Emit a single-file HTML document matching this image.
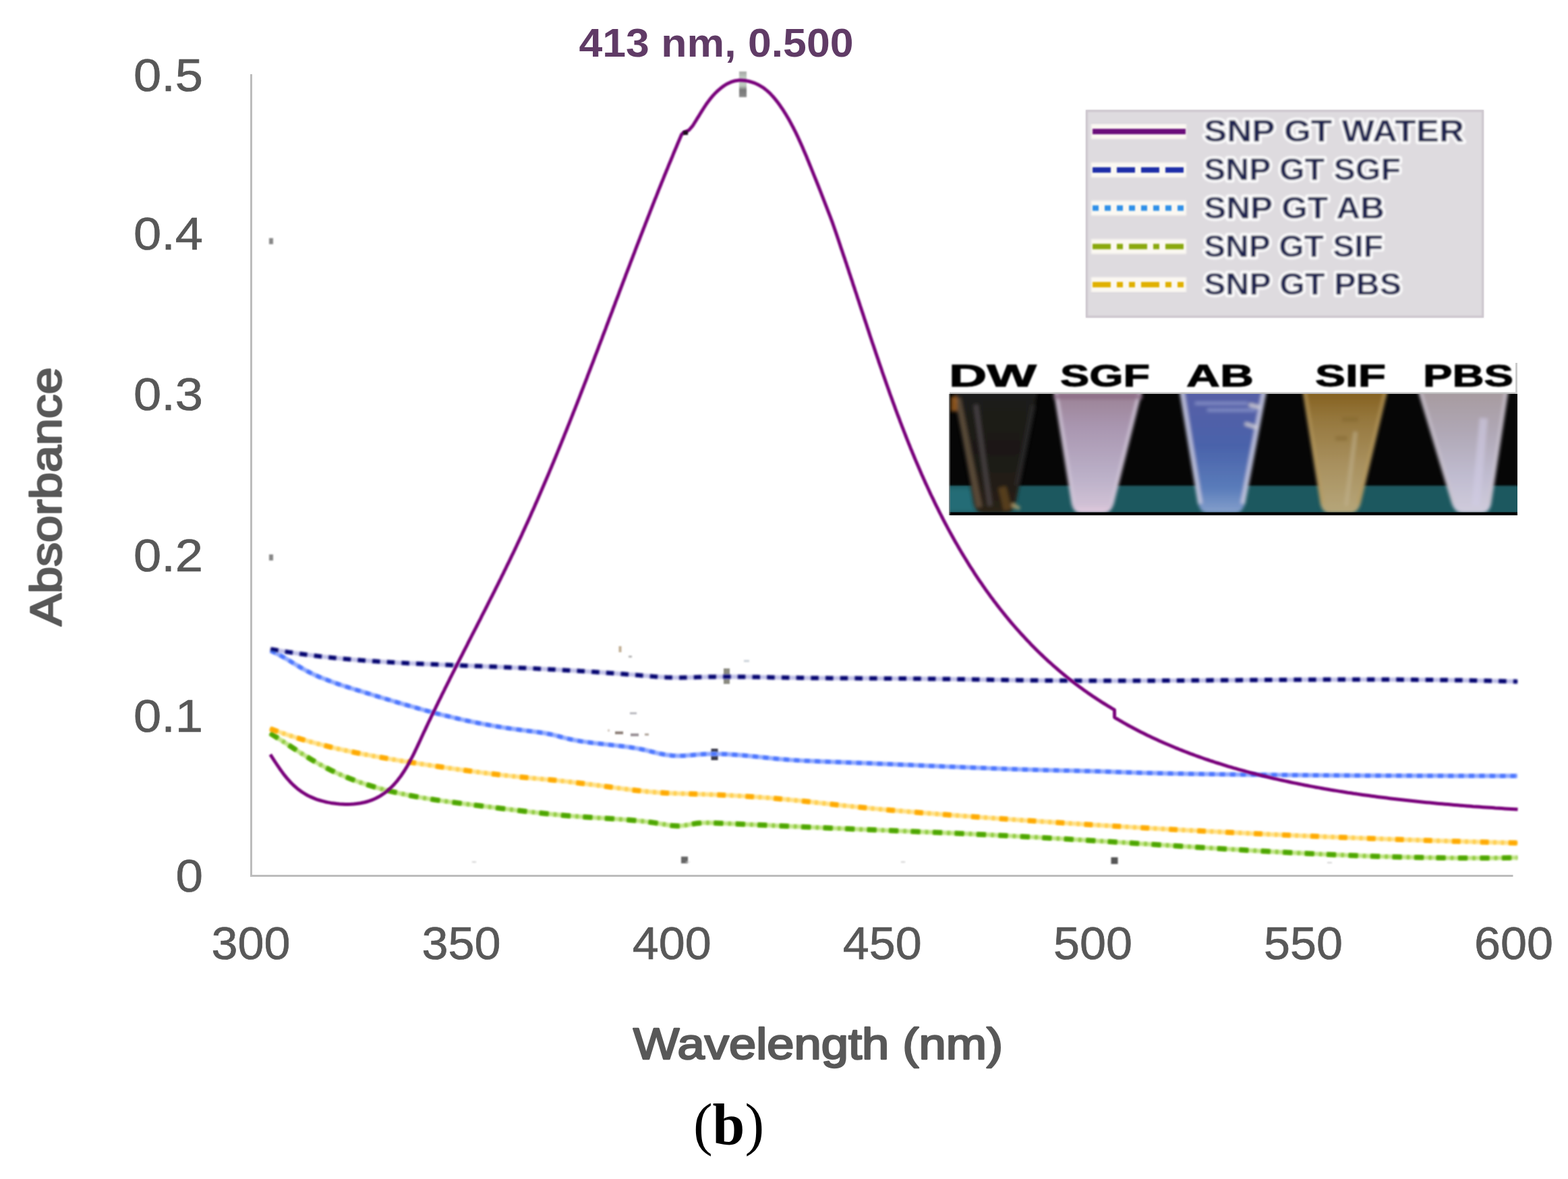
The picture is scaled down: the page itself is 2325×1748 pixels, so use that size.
<!DOCTYPE html>
<html lang="en"><head><meta charset="utf-8"><title>UV-Vis absorbance of SNP GT in different media</title>
<style>
html,body{margin:0;padding:0;background:#fff;}
body{width:2325px;height:1748px;overflow:hidden;}
svg{display:block;}
text{font-family:"Liberation Sans",sans-serif;}
.tick{font-size:68px;fill:#595959;stroke:#595959;stroke-width:0.7px;}
.title{font-size:64.5px;fill:#595959;stroke:#595959;stroke-width:2.5px;stroke-linejoin:round;}
.cap{font-family:"Liberation Serif",serif;font-size:86px;fill:#000;}
.leg{font-size:46px;font-weight:bold;fill:#1c2250;stroke:#fff;stroke-width:7px;paint-order:stroke;stroke-linejoin:round;}
.tube{font-size:46px;font-weight:bold;fill:#000;stroke:#000;stroke-width:1px;}
</style></head><body>
<svg width="2325" height="1748" viewBox="0 0 2325 1748" role="img" aria-label="UV-Vis absorbance spectra">
<defs>
<filter id="b05" x="-5%" y="-5%" width="110%" height="110%"><feGaussianBlur stdDeviation="0.5"/></filter>
<filter id="b1" x="-5%" y="-5%" width="110%" height="110%"><feGaussianBlur stdDeviation="0.9"/></filter>
<filter id="b12" x="-5%" y="-5%" width="110%" height="110%"><feGaussianBlur stdDeviation="1.15"/></filter>
<filter id="b13" x="-5%" y="-5%" width="110%" height="110%"><feGaussianBlur stdDeviation="1.3"/></filter>
<filter id="b16" x="-5%" y="-5%" width="110%" height="110%"><feGaussianBlur stdDeviation="1.7"/></filter>
<filter id="b2" x="-5%" y="-5%" width="110%" height="110%"><feGaussianBlur stdDeviation="1.6"/></filter>
<filter id="b3" x="-5%" y="-5%" width="110%" height="110%"><feGaussianBlur stdDeviation="2.5"/></filter>
<filter id="b5" x="-5%" y="-5%" width="110%" height="110%"><feGaussianBlur stdDeviation="5"/></filter>
<filter id="bt" x="-5%" y="-20%" width="110%" height="140%"><feGaussianBlur stdDeviation="0.9"/></filter>
<filter id="bl" x="-5%" y="-20%" width="110%" height="140%"><feGaussianBlur stdDeviation="1.5"/></filter>
</defs>
<rect width="2325" height="1748" fill="#fff"/>
<g fill="none" stroke="#bcbcbc" stroke-width="3">
<path d="M372.5 110 V1300"/>
<path d="M371 1298.5 H2243.5"/>
</g>
<g class="tick" text-anchor="end" filter="url(#b05)">
<text x="301" y="135.2" textLength="103.0" lengthAdjust="spacingAndGlyphs">0.5</text>
<text x="301" y="369.6" textLength="103.0" lengthAdjust="spacingAndGlyphs">0.4</text>
<text x="301" y="608.0" textLength="103.0" lengthAdjust="spacingAndGlyphs">0.3</text>
<text x="301" y="846.5" textLength="103.0" lengthAdjust="spacingAndGlyphs">0.2</text>
<text x="301" y="1085.0" textLength="103.0" lengthAdjust="spacingAndGlyphs">0.1</text>
<text x="301" y="1322.0" textLength="40.5" lengthAdjust="spacingAndGlyphs">0</text>
</g>
<g class="tick" text-anchor="middle" filter="url(#b05)">
<text x="372.0" y="1422" textLength="117" lengthAdjust="spacingAndGlyphs">300</text>
<text x="684.1" y="1422" textLength="117" lengthAdjust="spacingAndGlyphs">350</text>
<text x="996.2" y="1422" textLength="117" lengthAdjust="spacingAndGlyphs">400</text>
<text x="1308.3" y="1422" textLength="117" lengthAdjust="spacingAndGlyphs">450</text>
<text x="1620.4" y="1422" textLength="117" lengthAdjust="spacingAndGlyphs">500</text>
<text x="1932.5" y="1422" textLength="117" lengthAdjust="spacingAndGlyphs">550</text>
<text x="2244.6" y="1422" textLength="117" lengthAdjust="spacingAndGlyphs">600</text>
</g>
<g class="title" filter="url(#b05)">
<text x="1213" y="1570" text-anchor="middle" textLength="548" lengthAdjust="spacingAndGlyphs">Wavelength (nm)</text>
<text transform="translate(90.5 736.3) rotate(-90)" text-anchor="middle" textLength="383.5" lengthAdjust="spacingAndGlyphs">Absorbance</text>
</g>
<text x="1062" y="84" text-anchor="middle" textLength="407" lengthAdjust="spacingAndGlyphs" filter="url(#b05)" style="font-size:60px;font-weight:bold;fill:#603a66">413 nm, 0.500</text>
<defs><linearGradient id="gMk" x1="0" y1="0" x2="0" y2="1"><stop offset="0" stop-color="#a4a6a4"/><stop offset="0.3" stop-color="#c4d2c6"/><stop offset="0.55" stop-color="#bccabc"/><stop offset="0.72" stop-color="#787878"/><stop offset="1" stop-color="#8a8a8a"/></linearGradient></defs>
<g filter="url(#b1)">
<rect x="1096" y="106" width="11" height="38" fill="url(#gMk)"/>
<rect x="1073" y="991" width="9" height="23" fill="#8a8a80"/>
<rect x="1054.5" y="1110" width="10" height="17" fill="#3a3a4a"/>
</g>
<g fill="none" stroke-linejoin="round">
<g filter="url(#b16)">
<path d="M401.3 964.7 L410.3 969.0 L419.3 973.8 L428.4 979.1 L437.4 984.6 L446.4 990.0 L455.4 995.1 L464.4 999.6 L473.4 1003.6 L482.5 1007.2 L491.5 1010.6 L500.5 1013.8 L509.5 1016.9 L518.5 1019.7 L527.6 1022.6 L536.6 1025.3 L545.6 1028.1 L554.6 1030.9 L563.6 1033.7 L572.6 1036.4 L581.7 1039.1 L590.7 1041.8 L599.7 1044.5 L608.7 1047.1 L617.7 1049.6 L626.8 1052.2 L635.8 1054.6 L644.8 1057.0 L653.8 1059.4 L662.8 1061.6 L671.8 1063.8 L680.9 1065.9 L689.9 1068.0 L698.9 1069.9 L707.9 1071.7 L716.9 1073.5 L725.9 1075.1 L735.0 1076.7 L744.0 1078.2 L753.0 1079.6 L762.0 1080.9 L771.0 1082.1 L780.1 1083.3 L789.1 1084.4 L798.1 1085.6 L807.1 1086.9 L816.1 1088.6 L825.1 1090.8 L834.2 1093.3 L843.2 1095.5 L852.2 1097.4 L861.2 1099.0 L870.2 1100.3 L879.3 1101.5 L888.3 1102.5 L897.3 1103.5 L906.3 1104.5 L915.3 1105.5 L924.3 1106.6 L933.4 1107.8 L942.4 1109.2 L951.4 1110.9 L960.4 1112.9 L969.4 1115.2 L978.5 1117.4 L987.5 1119.1 L996.5 1120.2 L1005.5 1120.6 L1014.5 1120.4 L1023.5 1119.7 L1032.6 1118.9 L1041.6 1118.2 L1050.6 1117.8 L1059.6 1117.8 L1068.6 1117.9 L1077.7 1118.2 L1086.7 1118.8 L1095.7 1119.4 L1104.7 1120.2 L1113.7 1121.1 L1122.7 1122.0 L1131.8 1122.9 L1140.8 1123.9 L1149.8 1124.8 L1158.8 1125.6 L1167.8 1126.3 L1176.9 1127.0 L1185.9 1127.5 L1194.9 1128.0 L1203.9 1128.4 L1212.9 1128.8 L1221.9 1129.2 L1231.0 1129.5 L1240.0 1129.8 L1249.0 1130.2 L1258.0 1130.5 L1267.0 1130.8 L1276.1 1131.2 L1285.1 1131.5 L1294.1 1131.9 L1303.1 1132.3 L1312.1 1132.6 L1321.1 1133.0 L1330.2 1133.4 L1339.2 1133.8 L1348.2 1134.1 L1357.2 1134.5 L1366.2 1134.9 L1375.2 1135.3 L1384.3 1135.7 L1393.3 1136.1 L1402.3 1136.5 L1411.3 1136.8 L1420.3 1137.2 L1429.4 1137.6 L1438.4 1137.9 L1447.4 1138.3 L1456.4 1138.6 L1465.4 1139.0 L1474.4 1139.3 L1483.5 1139.7 L1492.5 1140.0 L1501.5 1140.3 L1510.5 1140.6 L1519.5 1140.9 L1528.6 1141.2 L1537.6 1141.4 L1546.6 1141.7 L1555.6 1141.9 L1564.6 1142.1 L1573.6 1142.3 L1582.7 1142.5 L1591.7 1142.7 L1600.7 1142.9 L1609.7 1143.2 L1618.7 1143.4 L1627.8 1143.6 L1636.8 1143.9 L1645.8 1144.2 L1654.8 1144.6 L1663.8 1144.9 L1672.8 1145.2 L1681.9 1145.5 L1690.9 1145.8 L1699.9 1146.0 L1708.9 1146.2 L1717.9 1146.4 L1727.0 1146.6 L1736.0 1146.8 L1745.0 1147.0 L1754.0 1147.1 L1763.0 1147.3 L1772.0 1147.4 L1781.1 1147.6 L1790.1 1147.7 L1799.1 1147.8 L1808.1 1148.0 L1817.1 1148.1 L1826.2 1148.2 L1835.2 1148.3 L1844.2 1148.4 L1853.2 1148.5 L1862.2 1148.6 L1871.2 1148.7 L1880.3 1148.8 L1889.3 1148.9 L1898.3 1149.0 L1907.3 1149.1 L1916.3 1149.2 L1925.4 1149.2 L1934.4 1149.3 L1943.4 1149.4 L1952.4 1149.4 L1961.4 1149.5 L1970.4 1149.6 L1979.5 1149.6 L1988.5 1149.7 L1997.5 1149.7 L2006.5 1149.8 L2015.5 1149.8 L2024.5 1149.9 L2033.6 1149.9 L2042.6 1149.9 L2051.6 1150.0 L2060.6 1150.0 L2069.6 1150.0 L2078.7 1150.1 L2087.7 1150.1 L2096.7 1150.1 L2105.7 1150.2 L2114.7 1150.2 L2123.7 1150.2 L2132.8 1150.2 L2141.8 1150.2 L2150.8 1150.3 L2159.8 1150.3 L2168.8 1150.3 L2177.9 1150.3 L2186.9 1150.3 L2195.9 1150.3 L2204.9 1150.3 L2213.9 1150.4 L2222.9 1150.4 L2232.0 1150.4 L2241.0 1150.4 L2250.0 1150.4" stroke="#8ea8ff" stroke-width="6.2"/>
<path d="M400.8 1087.3 L409.8 1093.0 L418.8 1098.7 L427.9 1104.6 L436.9 1110.5 L445.9 1116.3 L454.9 1121.9 L463.9 1127.4 L473.0 1132.6 L482.0 1137.5 L491.0 1142.1 L500.0 1146.3 L509.0 1150.3 L518.1 1154.0 L527.1 1157.5 L536.1 1160.7 L545.1 1163.6 L554.1 1166.4 L563.2 1169.0 L572.2 1171.4 L581.2 1173.6 L590.2 1175.7 L599.3 1177.6 L608.3 1179.5 L617.3 1181.2 L626.3 1182.8 L635.3 1184.2 L644.4 1185.7 L653.4 1187.0 L662.4 1188.3 L671.4 1189.5 L680.4 1190.7 L689.5 1191.8 L698.5 1193.0 L707.5 1194.1 L716.5 1195.2 L725.5 1196.3 L734.6 1197.5 L743.6 1198.6 L752.6 1199.7 L761.6 1200.8 L770.6 1201.9 L779.7 1203.0 L788.7 1204.0 L797.7 1205.0 L806.7 1206.0 L815.7 1206.9 L824.8 1207.8 L833.8 1208.7 L842.8 1209.5 L851.8 1210.2 L860.8 1210.9 L869.9 1211.5 L878.9 1212.1 L887.9 1212.7 L896.9 1213.2 L905.9 1213.8 L915.0 1214.3 L924.0 1215.0 L933.0 1215.7 L942.0 1216.5 L951.0 1217.4 L960.1 1218.5 L969.1 1219.7 L978.1 1221.1 L987.1 1222.6 L996.2 1224.0 L1005.2 1224.6 L1014.2 1223.9 L1023.2 1222.4 L1032.2 1220.8 L1041.3 1220.0 L1050.3 1219.9 L1059.3 1220.2 L1068.3 1220.6 L1077.3 1221.0 L1086.4 1221.3 L1095.4 1221.7 L1104.4 1222.1 L1113.4 1222.5 L1122.4 1222.9 L1131.5 1223.3 L1140.5 1223.7 L1149.5 1224.1 L1158.5 1224.5 L1167.5 1224.9 L1176.6 1225.3 L1185.6 1225.7 L1194.6 1226.1 L1203.6 1226.5 L1212.6 1226.9 L1221.7 1227.3 L1230.7 1227.7 L1239.7 1228.1 L1248.7 1228.4 L1257.7 1228.8 L1266.8 1229.2 L1275.8 1229.6 L1284.8 1229.9 L1293.8 1230.3 L1302.8 1230.7 L1311.9 1231.0 L1320.9 1231.4 L1329.9 1231.8 L1338.9 1232.2 L1348.0 1232.5 L1357.0 1232.9 L1366.0 1233.3 L1375.0 1233.7 L1384.0 1234.0 L1393.1 1234.4 L1402.1 1234.8 L1411.1 1235.2 L1420.1 1235.6 L1429.1 1236.0 L1438.2 1236.4 L1447.2 1236.9 L1456.2 1237.3 L1465.2 1237.7 L1474.2 1238.1 L1483.3 1238.6 L1492.3 1239.0 L1501.3 1239.5 L1510.3 1240.0 L1519.3 1240.5 L1528.4 1241.0 L1537.4 1241.4 L1546.4 1242.0 L1555.4 1242.5 L1564.4 1243.0 L1573.5 1243.5 L1582.5 1244.0 L1591.5 1244.6 L1600.5 1245.1 L1609.5 1245.7 L1618.6 1246.2 L1627.6 1246.8 L1636.6 1247.3 L1645.6 1247.9 L1654.6 1248.5 L1663.7 1249.0 L1672.7 1249.6 L1681.7 1250.2 L1690.7 1250.8 L1699.8 1251.3 L1708.8 1251.9 L1717.8 1252.5 L1726.8 1253.0 L1735.8 1253.6 L1744.9 1254.2 L1753.9 1254.8 L1762.9 1255.3 L1771.9 1255.9 L1780.9 1256.5 L1790.0 1257.0 L1799.0 1257.6 L1808.0 1258.1 L1817.0 1258.7 L1826.0 1259.2 L1835.1 1259.7 L1844.1 1260.3 L1853.1 1260.8 L1862.1 1261.3 L1871.1 1261.8 L1880.2 1262.3 L1889.2 1262.8 L1898.2 1263.3 L1907.2 1263.8 L1916.2 1264.3 L1925.3 1264.7 L1934.3 1265.2 L1943.3 1265.6 L1952.3 1266.0 L1961.3 1266.5 L1970.4 1266.9 L1979.4 1267.3 L1988.4 1267.6 L1997.4 1268.0 L2006.4 1268.4 L2015.5 1268.7 L2024.5 1269.1 L2033.5 1269.4 L2042.5 1269.7 L2051.5 1270.0 L2060.6 1270.2 L2069.6 1270.5 L2078.6 1270.7 L2087.6 1270.9 L2096.7 1271.1 L2105.7 1271.3 L2114.7 1271.5 L2123.7 1271.6 L2132.7 1271.8 L2141.8 1271.9 L2150.8 1272.0 L2159.8 1272.1 L2168.8 1272.1 L2177.8 1272.1 L2186.9 1272.2 L2195.9 1272.1 L2204.9 1272.1 L2213.9 1272.1 L2222.9 1272.0 L2232.0 1271.9 L2241.0 1271.7 L2250.0 1271.6" stroke="#c0e484" stroke-width="6.2"/>
<path d="M400.8 1080.5 L409.8 1083.8 L418.8 1086.9 L427.9 1090.0 L436.9 1092.9 L445.9 1095.6 L454.9 1098.3 L463.9 1100.8 L473.0 1103.2 L482.0 1105.5 L491.0 1107.8 L500.0 1109.9 L509.0 1111.9 L518.1 1113.9 L527.1 1115.8 L536.1 1117.6 L545.1 1119.3 L554.1 1121.0 L563.2 1122.6 L572.2 1124.2 L581.2 1125.7 L590.2 1127.2 L599.3 1128.7 L608.3 1130.1 L617.3 1131.5 L626.3 1132.9 L635.3 1134.3 L644.4 1135.7 L653.4 1137.0 L662.4 1138.3 L671.4 1139.6 L680.4 1140.9 L689.5 1142.1 L698.5 1143.3 L707.5 1144.5 L716.5 1145.7 L725.5 1146.8 L734.6 1147.9 L743.6 1149.0 L752.6 1150.0 L761.6 1151.0 L770.6 1151.9 L779.7 1152.8 L788.7 1153.6 L797.7 1154.5 L806.7 1155.3 L815.7 1156.1 L824.8 1157.0 L833.8 1158.0 L842.8 1159.0 L851.8 1160.1 L860.8 1161.2 L869.9 1162.3 L878.9 1163.4 L887.9 1164.6 L896.9 1165.8 L905.9 1167.0 L915.0 1168.2 L924.0 1169.4 L933.0 1170.6 L942.0 1171.7 L951.0 1172.7 L960.1 1173.6 L969.1 1174.4 L978.1 1175.1 L987.1 1175.7 L996.2 1176.1 L1005.2 1176.5 L1014.2 1176.7 L1023.2 1177.0 L1032.2 1177.3 L1041.3 1177.5 L1050.3 1177.9 L1059.3 1178.2 L1068.3 1178.6 L1077.3 1179.0 L1086.4 1179.5 L1095.4 1180.0 L1104.4 1180.5 L1113.4 1181.1 L1122.4 1181.7 L1131.5 1182.3 L1140.5 1183.0 L1149.5 1183.8 L1158.5 1184.6 L1167.5 1185.4 L1176.6 1186.3 L1185.6 1187.2 L1194.6 1188.1 L1203.6 1189.1 L1212.6 1190.1 L1221.7 1191.1 L1230.7 1192.1 L1239.7 1193.1 L1248.7 1194.1 L1257.7 1195.0 L1266.8 1196.0 L1275.8 1196.9 L1284.8 1197.8 L1293.8 1198.7 L1302.8 1199.5 L1311.9 1200.3 L1320.9 1201.2 L1329.9 1201.9 L1338.9 1202.7 L1348.0 1203.5 L1357.0 1204.2 L1366.0 1205.0 L1375.0 1205.7 L1384.0 1206.4 L1393.1 1207.1 L1402.1 1207.8 L1411.1 1208.5 L1420.1 1209.2 L1429.1 1209.9 L1438.2 1210.5 L1447.2 1211.2 L1456.2 1211.8 L1465.2 1212.5 L1474.2 1213.1 L1483.3 1213.8 L1492.3 1214.4 L1501.3 1215.0 L1510.3 1215.7 L1519.3 1216.3 L1528.4 1216.9 L1537.4 1217.5 L1546.4 1218.1 L1555.4 1218.7 L1564.4 1219.3 L1573.5 1219.9 L1582.5 1220.5 L1591.5 1221.1 L1600.5 1221.6 L1609.5 1222.2 L1618.6 1222.8 L1627.6 1223.3 L1636.6 1223.9 L1645.6 1224.4 L1654.6 1225.0 L1663.7 1225.5 L1672.7 1226.0 L1681.7 1226.6 L1690.7 1227.1 L1699.8 1227.6 L1708.8 1228.1 L1717.8 1228.6 L1726.8 1229.1 L1735.8 1229.6 L1744.9 1230.1 L1753.9 1230.6 L1762.9 1231.1 L1771.9 1231.5 L1780.9 1232.0 L1790.0 1232.5 L1799.0 1232.9 L1808.0 1233.4 L1817.0 1233.8 L1826.0 1234.3 L1835.1 1234.7 L1844.1 1235.2 L1853.1 1235.6 L1862.1 1236.0 L1871.1 1236.4 L1880.2 1236.9 L1889.2 1237.3 L1898.2 1237.7 L1907.2 1238.1 L1916.2 1238.5 L1925.3 1238.9 L1934.3 1239.3 L1943.3 1239.6 L1952.3 1240.0 L1961.3 1240.4 L1970.4 1240.8 L1979.4 1241.1 L1988.4 1241.5 L1997.4 1241.8 L2006.4 1242.2 L2015.5 1242.5 L2024.5 1242.9 L2033.5 1243.2 L2042.5 1243.5 L2051.5 1243.8 L2060.6 1244.2 L2069.6 1244.5 L2078.6 1244.8 L2087.6 1245.1 L2096.7 1245.4 L2105.7 1245.7 L2114.7 1246.0 L2123.7 1246.3 L2132.7 1246.6 L2141.8 1246.8 L2150.8 1247.1 L2159.8 1247.4 L2168.8 1247.6 L2177.8 1247.9 L2186.9 1248.1 L2195.9 1248.4 L2204.9 1248.6 L2213.9 1248.9 L2222.9 1249.1 L2232.0 1249.4 L2241.0 1249.6 L2250.0 1249.8" stroke="#ffe084" stroke-width="6.2"/>
<path d="M401.3 962.4 L410.3 964.0 L419.3 965.5 L428.4 966.9 L437.4 968.2 L446.4 969.5 L455.4 970.7 L464.4 971.9 L473.4 973.0 L482.5 974.0 L491.5 974.9 L500.5 975.9 L509.5 976.7 L518.5 977.5 L527.6 978.3 L536.6 979.0 L545.6 979.7 L554.6 980.3 L563.6 980.9 L572.6 981.5 L581.7 982.0 L590.7 982.6 L599.7 983.0 L608.7 983.5 L617.7 983.9 L626.8 984.3 L635.8 984.7 L644.8 985.1 L653.8 985.5 L662.8 985.8 L671.8 986.2 L680.9 986.5 L689.9 986.9 L698.9 987.2 L707.9 987.6 L716.9 987.9 L725.9 988.3 L735.0 988.6 L744.0 989.0 L753.0 989.4 L762.0 989.8 L771.0 990.2 L780.1 990.6 L789.1 991.0 L798.1 991.5 L807.1 991.9 L816.1 992.4 L825.1 992.9 L834.2 993.4 L843.2 993.9 L852.2 994.4 L861.2 994.9 L870.2 995.5 L879.3 996.1 L888.3 996.7 L897.3 997.3 L906.3 997.9 L915.3 998.6 L924.3 999.3 L933.4 1000.0 L942.4 1000.7 L951.4 1001.5 L960.4 1002.2 L969.4 1003.0 L978.5 1003.7 L987.5 1004.2 L996.5 1004.5 L1005.5 1004.7 L1014.5 1004.6 L1023.5 1004.4 L1032.6 1004.1 L1041.6 1003.8 L1050.6 1003.6 L1059.6 1003.4 L1068.6 1003.3 L1077.7 1003.3 L1086.7 1003.3 L1095.7 1003.4 L1104.7 1003.5 L1113.7 1003.6 L1122.7 1003.8 L1131.8 1004.0 L1140.8 1004.2 L1149.8 1004.4 L1158.8 1004.5 L1167.8 1004.7 L1176.9 1004.8 L1185.9 1004.9 L1194.9 1005.1 L1203.9 1005.2 L1212.9 1005.3 L1221.9 1005.3 L1231.0 1005.4 L1240.0 1005.5 L1249.0 1005.5 L1258.0 1005.6 L1267.0 1005.6 L1276.1 1005.7 L1285.1 1005.7 L1294.1 1005.8 L1303.1 1005.8 L1312.1 1005.9 L1321.1 1005.9 L1330.2 1006.0 L1339.2 1006.1 L1348.2 1006.1 L1357.2 1006.2 L1366.2 1006.3 L1375.2 1006.4 L1384.3 1006.5 L1393.3 1006.6 L1402.3 1006.7 L1411.3 1006.8 L1420.3 1007.0 L1429.4 1007.1 L1438.4 1007.3 L1447.4 1007.4 L1456.4 1007.6 L1465.4 1007.7 L1474.4 1007.9 L1483.5 1008.0 L1492.5 1008.2 L1501.5 1008.3 L1510.5 1008.4 L1519.5 1008.6 L1528.6 1008.7 L1537.6 1008.8 L1546.6 1008.9 L1555.6 1008.9 L1564.6 1009.0 L1573.6 1009.1 L1582.7 1009.1 L1591.7 1009.2 L1600.7 1009.2 L1609.7 1009.3 L1618.7 1009.3 L1627.8 1009.3 L1636.8 1009.3 L1645.8 1009.3 L1654.8 1009.3 L1663.8 1009.3 L1672.8 1009.3 L1681.9 1009.3 L1690.9 1009.2 L1699.9 1009.2 L1708.9 1009.2 L1717.9 1009.1 L1727.0 1009.1 L1736.0 1009.0 L1745.0 1009.0 L1754.0 1008.9 L1763.0 1008.9 L1772.0 1008.8 L1781.1 1008.8 L1790.1 1008.7 L1799.1 1008.6 L1808.1 1008.6 L1817.1 1008.5 L1826.2 1008.4 L1835.2 1008.4 L1844.2 1008.3 L1853.2 1008.2 L1862.2 1008.2 L1871.2 1008.1 L1880.3 1008.1 L1889.3 1008.0 L1898.3 1007.9 L1907.3 1007.9 L1916.3 1007.8 L1925.4 1007.8 L1934.4 1007.7 L1943.4 1007.7 L1952.4 1007.7 L1961.4 1007.6 L1970.4 1007.6 L1979.5 1007.6 L1988.5 1007.5 L1997.5 1007.5 L2006.5 1007.5 L2015.5 1007.5 L2024.5 1007.5 L2033.6 1007.5 L2042.6 1007.5 L2051.6 1007.6 L2060.6 1007.6 L2069.6 1007.6 L2078.7 1007.7 L2087.7 1007.7 L2096.7 1007.8 L2105.7 1007.9 L2114.7 1007.9 L2123.7 1008.0 L2132.8 1008.1 L2141.8 1008.2 L2150.8 1008.4 L2159.8 1008.5 L2168.8 1008.6 L2177.9 1008.8 L2186.9 1009.0 L2195.9 1009.2 L2204.9 1009.3 L2213.9 1009.5 L2222.9 1009.8 L2232.0 1010.0 L2241.0 1010.2 L2250.0 1010.5" stroke="#c2c2e8" stroke-width="6.2"/>
</g>
<g filter="url(#b16)">
<path d="M400.8 1087.3 L409.8 1093.0 L418.8 1098.7 L427.9 1104.6 L436.9 1110.5 L445.9 1116.3 L454.9 1121.9 L463.9 1127.4 L473.0 1132.6 L482.0 1137.5 L491.0 1142.1 L500.0 1146.3 L509.0 1150.3 L518.1 1154.0 L527.1 1157.5 L536.1 1160.7 L545.1 1163.6 L554.1 1166.4 L563.2 1169.0 L572.2 1171.4 L581.2 1173.6 L590.2 1175.7 L599.3 1177.6 L608.3 1179.5 L617.3 1181.2 L626.3 1182.8 L635.3 1184.2 L644.4 1185.7 L653.4 1187.0 L662.4 1188.3 L671.4 1189.5 L680.4 1190.7 L689.5 1191.8 L698.5 1193.0 L707.5 1194.1 L716.5 1195.2 L725.5 1196.3 L734.6 1197.5 L743.6 1198.6 L752.6 1199.7 L761.6 1200.8 L770.6 1201.9 L779.7 1203.0 L788.7 1204.0 L797.7 1205.0 L806.7 1206.0 L815.7 1206.9 L824.8 1207.8 L833.8 1208.7 L842.8 1209.5 L851.8 1210.2 L860.8 1210.9 L869.9 1211.5 L878.9 1212.1 L887.9 1212.7 L896.9 1213.2 L905.9 1213.8 L915.0 1214.3 L924.0 1215.0 L933.0 1215.7 L942.0 1216.5 L951.0 1217.4 L960.1 1218.5 L969.1 1219.7 L978.1 1221.1 L987.1 1222.6 L996.2 1224.0 L1005.2 1224.6 L1014.2 1223.9 L1023.2 1222.4 L1032.2 1220.8 L1041.3 1220.0 L1050.3 1219.9 L1059.3 1220.2 L1068.3 1220.6 L1077.3 1221.0 L1086.4 1221.3 L1095.4 1221.7 L1104.4 1222.1 L1113.4 1222.5 L1122.4 1222.9 L1131.5 1223.3 L1140.5 1223.7 L1149.5 1224.1 L1158.5 1224.5 L1167.5 1224.9 L1176.6 1225.3 L1185.6 1225.7 L1194.6 1226.1 L1203.6 1226.5 L1212.6 1226.9 L1221.7 1227.3 L1230.7 1227.7 L1239.7 1228.1 L1248.7 1228.4 L1257.7 1228.8 L1266.8 1229.2 L1275.8 1229.6 L1284.8 1229.9 L1293.8 1230.3 L1302.8 1230.7 L1311.9 1231.0 L1320.9 1231.4 L1329.9 1231.8 L1338.9 1232.2 L1348.0 1232.5 L1357.0 1232.9 L1366.0 1233.3 L1375.0 1233.7 L1384.0 1234.0 L1393.1 1234.4 L1402.1 1234.8 L1411.1 1235.2 L1420.1 1235.6 L1429.1 1236.0 L1438.2 1236.4 L1447.2 1236.9 L1456.2 1237.3 L1465.2 1237.7 L1474.2 1238.1 L1483.3 1238.6 L1492.3 1239.0 L1501.3 1239.5 L1510.3 1240.0 L1519.3 1240.5 L1528.4 1241.0 L1537.4 1241.4 L1546.4 1242.0 L1555.4 1242.5 L1564.4 1243.0 L1573.5 1243.5 L1582.5 1244.0 L1591.5 1244.6 L1600.5 1245.1 L1609.5 1245.7 L1618.6 1246.2 L1627.6 1246.8 L1636.6 1247.3 L1645.6 1247.9 L1654.6 1248.5 L1663.7 1249.0 L1672.7 1249.6 L1681.7 1250.2 L1690.7 1250.8 L1699.8 1251.3 L1708.8 1251.9 L1717.8 1252.5 L1726.8 1253.0 L1735.8 1253.6 L1744.9 1254.2 L1753.9 1254.8 L1762.9 1255.3 L1771.9 1255.9 L1780.9 1256.5 L1790.0 1257.0 L1799.0 1257.6 L1808.0 1258.1 L1817.0 1258.7 L1826.0 1259.2 L1835.1 1259.7 L1844.1 1260.3 L1853.1 1260.8 L1862.1 1261.3 L1871.1 1261.8 L1880.2 1262.3 L1889.2 1262.8 L1898.2 1263.3 L1907.2 1263.8 L1916.2 1264.3 L1925.3 1264.7 L1934.3 1265.2 L1943.3 1265.6 L1952.3 1266.0 L1961.3 1266.5 L1970.4 1266.9 L1979.4 1267.3 L1988.4 1267.6 L1997.4 1268.0 L2006.4 1268.4 L2015.5 1268.7 L2024.5 1269.1 L2033.5 1269.4 L2042.5 1269.7 L2051.5 1270.0 L2060.6 1270.2 L2069.6 1270.5 L2078.6 1270.7 L2087.6 1270.9 L2096.7 1271.1 L2105.7 1271.3 L2114.7 1271.5 L2123.7 1271.6 L2132.7 1271.8 L2141.8 1271.9 L2150.8 1272.0 L2159.8 1272.1 L2168.8 1272.1 L2177.8 1272.1 L2186.9 1272.2 L2195.9 1272.1 L2204.9 1272.1 L2213.9 1272.1 L2222.9 1272.0 L2232.0 1271.9 L2241.0 1271.7 L2250.0 1271.6" stroke="#8cc83c" stroke-width="5.6" stroke-dasharray="13.5 7.5 4.5 7"/>
<path d="M400.8 1080.5 L409.8 1083.8 L418.8 1086.9 L427.9 1090.0 L436.9 1092.9 L445.9 1095.6 L454.9 1098.3 L463.9 1100.8 L473.0 1103.2 L482.0 1105.5 L491.0 1107.8 L500.0 1109.9 L509.0 1111.9 L518.1 1113.9 L527.1 1115.8 L536.1 1117.6 L545.1 1119.3 L554.1 1121.0 L563.2 1122.6 L572.2 1124.2 L581.2 1125.7 L590.2 1127.2 L599.3 1128.7 L608.3 1130.1 L617.3 1131.5 L626.3 1132.9 L635.3 1134.3 L644.4 1135.7 L653.4 1137.0 L662.4 1138.3 L671.4 1139.6 L680.4 1140.9 L689.5 1142.1 L698.5 1143.3 L707.5 1144.5 L716.5 1145.7 L725.5 1146.8 L734.6 1147.9 L743.6 1149.0 L752.6 1150.0 L761.6 1151.0 L770.6 1151.9 L779.7 1152.8 L788.7 1153.6 L797.7 1154.5 L806.7 1155.3 L815.7 1156.1 L824.8 1157.0 L833.8 1158.0 L842.8 1159.0 L851.8 1160.1 L860.8 1161.2 L869.9 1162.3 L878.9 1163.4 L887.9 1164.6 L896.9 1165.8 L905.9 1167.0 L915.0 1168.2 L924.0 1169.4 L933.0 1170.6 L942.0 1171.7 L951.0 1172.7 L960.1 1173.6 L969.1 1174.4 L978.1 1175.1 L987.1 1175.7 L996.2 1176.1 L1005.2 1176.5 L1014.2 1176.7 L1023.2 1177.0 L1032.2 1177.3 L1041.3 1177.5 L1050.3 1177.9 L1059.3 1178.2 L1068.3 1178.6 L1077.3 1179.0 L1086.4 1179.5 L1095.4 1180.0 L1104.4 1180.5 L1113.4 1181.1 L1122.4 1181.7 L1131.5 1182.3 L1140.5 1183.0 L1149.5 1183.8 L1158.5 1184.6 L1167.5 1185.4 L1176.6 1186.3 L1185.6 1187.2 L1194.6 1188.1 L1203.6 1189.1 L1212.6 1190.1 L1221.7 1191.1 L1230.7 1192.1 L1239.7 1193.1 L1248.7 1194.1 L1257.7 1195.0 L1266.8 1196.0 L1275.8 1196.9 L1284.8 1197.8 L1293.8 1198.7 L1302.8 1199.5 L1311.9 1200.3 L1320.9 1201.2 L1329.9 1201.9 L1338.9 1202.7 L1348.0 1203.5 L1357.0 1204.2 L1366.0 1205.0 L1375.0 1205.7 L1384.0 1206.4 L1393.1 1207.1 L1402.1 1207.8 L1411.1 1208.5 L1420.1 1209.2 L1429.1 1209.9 L1438.2 1210.5 L1447.2 1211.2 L1456.2 1211.8 L1465.2 1212.5 L1474.2 1213.1 L1483.3 1213.8 L1492.3 1214.4 L1501.3 1215.0 L1510.3 1215.7 L1519.3 1216.3 L1528.4 1216.9 L1537.4 1217.5 L1546.4 1218.1 L1555.4 1218.7 L1564.4 1219.3 L1573.5 1219.9 L1582.5 1220.5 L1591.5 1221.1 L1600.5 1221.6 L1609.5 1222.2 L1618.6 1222.8 L1627.6 1223.3 L1636.6 1223.9 L1645.6 1224.4 L1654.6 1225.0 L1663.7 1225.5 L1672.7 1226.0 L1681.7 1226.6 L1690.7 1227.1 L1699.8 1227.6 L1708.8 1228.1 L1717.8 1228.6 L1726.8 1229.1 L1735.8 1229.6 L1744.9 1230.1 L1753.9 1230.6 L1762.9 1231.1 L1771.9 1231.5 L1780.9 1232.0 L1790.0 1232.5 L1799.0 1232.9 L1808.0 1233.4 L1817.0 1233.8 L1826.0 1234.3 L1835.1 1234.7 L1844.1 1235.2 L1853.1 1235.6 L1862.1 1236.0 L1871.1 1236.4 L1880.2 1236.9 L1889.2 1237.3 L1898.2 1237.7 L1907.2 1238.1 L1916.2 1238.5 L1925.3 1238.9 L1934.3 1239.3 L1943.3 1239.6 L1952.3 1240.0 L1961.3 1240.4 L1970.4 1240.8 L1979.4 1241.1 L1988.4 1241.5 L1997.4 1241.8 L2006.4 1242.2 L2015.5 1242.5 L2024.5 1242.9 L2033.5 1243.2 L2042.5 1243.5 L2051.5 1243.8 L2060.6 1244.2 L2069.6 1244.5 L2078.6 1244.8 L2087.6 1245.1 L2096.7 1245.4 L2105.7 1245.7 L2114.7 1246.0 L2123.7 1246.3 L2132.7 1246.6 L2141.8 1246.8 L2150.8 1247.1 L2159.8 1247.4 L2168.8 1247.6 L2177.8 1247.9 L2186.9 1248.1 L2195.9 1248.4 L2204.9 1248.6 L2213.9 1248.9 L2222.9 1249.1 L2232.0 1249.4 L2241.0 1249.6 L2250.0 1249.8" stroke="#ffcc4c" stroke-width="5.6" stroke-dasharray="12 7 4.5 7 4.5 7"/>
</g>
<g filter="url(#b16)">
<path d="M401.3 964.7 L410.3 969.0 L419.3 973.8 L428.4 979.1 L437.4 984.6 L446.4 990.0 L455.4 995.1 L464.4 999.6 L473.4 1003.6 L482.5 1007.2 L491.5 1010.6 L500.5 1013.8 L509.5 1016.9 L518.5 1019.7 L527.6 1022.6 L536.6 1025.3 L545.6 1028.1 L554.6 1030.9 L563.6 1033.7 L572.6 1036.4 L581.7 1039.1 L590.7 1041.8 L599.7 1044.5 L608.7 1047.1 L617.7 1049.6 L626.8 1052.2 L635.8 1054.6 L644.8 1057.0 L653.8 1059.4 L662.8 1061.6 L671.8 1063.8 L680.9 1065.9 L689.9 1068.0 L698.9 1069.9 L707.9 1071.7 L716.9 1073.5 L725.9 1075.1 L735.0 1076.7 L744.0 1078.2 L753.0 1079.6 L762.0 1080.9 L771.0 1082.1 L780.1 1083.3 L789.1 1084.4 L798.1 1085.6 L807.1 1086.9 L816.1 1088.6 L825.1 1090.8 L834.2 1093.3 L843.2 1095.5 L852.2 1097.4 L861.2 1099.0 L870.2 1100.3 L879.3 1101.5 L888.3 1102.5 L897.3 1103.5 L906.3 1104.5 L915.3 1105.5 L924.3 1106.6 L933.4 1107.8 L942.4 1109.2 L951.4 1110.9 L960.4 1112.9 L969.4 1115.2 L978.5 1117.4 L987.5 1119.1 L996.5 1120.2 L1005.5 1120.6 L1014.5 1120.4 L1023.5 1119.7 L1032.6 1118.9 L1041.6 1118.2 L1050.6 1117.8 L1059.6 1117.8 L1068.6 1117.9 L1077.7 1118.2 L1086.7 1118.8 L1095.7 1119.4 L1104.7 1120.2 L1113.7 1121.1 L1122.7 1122.0 L1131.8 1122.9 L1140.8 1123.9 L1149.8 1124.8 L1158.8 1125.6 L1167.8 1126.3 L1176.9 1127.0 L1185.9 1127.5 L1194.9 1128.0 L1203.9 1128.4 L1212.9 1128.8 L1221.9 1129.2 L1231.0 1129.5 L1240.0 1129.8 L1249.0 1130.2 L1258.0 1130.5 L1267.0 1130.8 L1276.1 1131.2 L1285.1 1131.5 L1294.1 1131.9 L1303.1 1132.3 L1312.1 1132.6 L1321.1 1133.0 L1330.2 1133.4 L1339.2 1133.8 L1348.2 1134.1 L1357.2 1134.5 L1366.2 1134.9 L1375.2 1135.3 L1384.3 1135.7 L1393.3 1136.1 L1402.3 1136.5 L1411.3 1136.8 L1420.3 1137.2 L1429.4 1137.6 L1438.4 1137.9 L1447.4 1138.3 L1456.4 1138.6 L1465.4 1139.0 L1474.4 1139.3 L1483.5 1139.7 L1492.5 1140.0 L1501.5 1140.3 L1510.5 1140.6 L1519.5 1140.9 L1528.6 1141.2 L1537.6 1141.4 L1546.6 1141.7 L1555.6 1141.9 L1564.6 1142.1 L1573.6 1142.3 L1582.7 1142.5 L1591.7 1142.7 L1600.7 1142.9 L1609.7 1143.2 L1618.7 1143.4 L1627.8 1143.6 L1636.8 1143.9 L1645.8 1144.2 L1654.8 1144.6 L1663.8 1144.9 L1672.8 1145.2 L1681.9 1145.5 L1690.9 1145.8 L1699.9 1146.0 L1708.9 1146.2 L1717.9 1146.4 L1727.0 1146.6 L1736.0 1146.8 L1745.0 1147.0 L1754.0 1147.1 L1763.0 1147.3 L1772.0 1147.4 L1781.1 1147.6 L1790.1 1147.7 L1799.1 1147.8 L1808.1 1148.0 L1817.1 1148.1 L1826.2 1148.2 L1835.2 1148.3 L1844.2 1148.4 L1853.2 1148.5 L1862.2 1148.6 L1871.2 1148.7 L1880.3 1148.8 L1889.3 1148.9 L1898.3 1149.0 L1907.3 1149.1 L1916.3 1149.2 L1925.4 1149.2 L1934.4 1149.3 L1943.4 1149.4 L1952.4 1149.4 L1961.4 1149.5 L1970.4 1149.6 L1979.5 1149.6 L1988.5 1149.7 L1997.5 1149.7 L2006.5 1149.8 L2015.5 1149.8 L2024.5 1149.9 L2033.6 1149.9 L2042.6 1149.9 L2051.6 1150.0 L2060.6 1150.0 L2069.6 1150.0 L2078.7 1150.1 L2087.7 1150.1 L2096.7 1150.1 L2105.7 1150.2 L2114.7 1150.2 L2123.7 1150.2 L2132.8 1150.2 L2141.8 1150.2 L2150.8 1150.3 L2159.8 1150.3 L2168.8 1150.3 L2177.9 1150.3 L2186.9 1150.3 L2195.9 1150.3 L2204.9 1150.3 L2213.9 1150.4 L2222.9 1150.4 L2232.0 1150.4 L2241.0 1150.4 L2250.0 1150.4" stroke="#4672ff" stroke-width="5" stroke-dasharray="8 7.4"/>
<path d="M400.8 1087.3 L409.8 1093.0 L418.8 1098.7 L427.9 1104.6 L436.9 1110.5 L445.9 1116.3 L454.9 1121.9 L463.9 1127.4 L473.0 1132.6 L482.0 1137.5 L491.0 1142.1 L500.0 1146.3 L509.0 1150.3 L518.1 1154.0 L527.1 1157.5 L536.1 1160.7 L545.1 1163.6 L554.1 1166.4 L563.2 1169.0 L572.2 1171.4 L581.2 1173.6 L590.2 1175.7 L599.3 1177.6 L608.3 1179.5 L617.3 1181.2 L626.3 1182.8 L635.3 1184.2 L644.4 1185.7 L653.4 1187.0 L662.4 1188.3 L671.4 1189.5 L680.4 1190.7 L689.5 1191.8 L698.5 1193.0 L707.5 1194.1 L716.5 1195.2 L725.5 1196.3 L734.6 1197.5 L743.6 1198.6 L752.6 1199.7 L761.6 1200.8 L770.6 1201.9 L779.7 1203.0 L788.7 1204.0 L797.7 1205.0 L806.7 1206.0 L815.7 1206.9 L824.8 1207.8 L833.8 1208.7 L842.8 1209.5 L851.8 1210.2 L860.8 1210.9 L869.9 1211.5 L878.9 1212.1 L887.9 1212.7 L896.9 1213.2 L905.9 1213.8 L915.0 1214.3 L924.0 1215.0 L933.0 1215.7 L942.0 1216.5 L951.0 1217.4 L960.1 1218.5 L969.1 1219.7 L978.1 1221.1 L987.1 1222.6 L996.2 1224.0 L1005.2 1224.6 L1014.2 1223.9 L1023.2 1222.4 L1032.2 1220.8 L1041.3 1220.0 L1050.3 1219.9 L1059.3 1220.2 L1068.3 1220.6 L1077.3 1221.0 L1086.4 1221.3 L1095.4 1221.7 L1104.4 1222.1 L1113.4 1222.5 L1122.4 1222.9 L1131.5 1223.3 L1140.5 1223.7 L1149.5 1224.1 L1158.5 1224.5 L1167.5 1224.9 L1176.6 1225.3 L1185.6 1225.7 L1194.6 1226.1 L1203.6 1226.5 L1212.6 1226.9 L1221.7 1227.3 L1230.7 1227.7 L1239.7 1228.1 L1248.7 1228.4 L1257.7 1228.8 L1266.8 1229.2 L1275.8 1229.6 L1284.8 1229.9 L1293.8 1230.3 L1302.8 1230.7 L1311.9 1231.0 L1320.9 1231.4 L1329.9 1231.8 L1338.9 1232.2 L1348.0 1232.5 L1357.0 1232.9 L1366.0 1233.3 L1375.0 1233.7 L1384.0 1234.0 L1393.1 1234.4 L1402.1 1234.8 L1411.1 1235.2 L1420.1 1235.6 L1429.1 1236.0 L1438.2 1236.4 L1447.2 1236.9 L1456.2 1237.3 L1465.2 1237.7 L1474.2 1238.1 L1483.3 1238.6 L1492.3 1239.0 L1501.3 1239.5 L1510.3 1240.0 L1519.3 1240.5 L1528.4 1241.0 L1537.4 1241.4 L1546.4 1242.0 L1555.4 1242.5 L1564.4 1243.0 L1573.5 1243.5 L1582.5 1244.0 L1591.5 1244.6 L1600.5 1245.1 L1609.5 1245.7 L1618.6 1246.2 L1627.6 1246.8 L1636.6 1247.3 L1645.6 1247.9 L1654.6 1248.5 L1663.7 1249.0 L1672.7 1249.6 L1681.7 1250.2 L1690.7 1250.8 L1699.8 1251.3 L1708.8 1251.9 L1717.8 1252.5 L1726.8 1253.0 L1735.8 1253.6 L1744.9 1254.2 L1753.9 1254.8 L1762.9 1255.3 L1771.9 1255.9 L1780.9 1256.5 L1790.0 1257.0 L1799.0 1257.6 L1808.0 1258.1 L1817.0 1258.7 L1826.0 1259.2 L1835.1 1259.7 L1844.1 1260.3 L1853.1 1260.8 L1862.1 1261.3 L1871.1 1261.8 L1880.2 1262.3 L1889.2 1262.8 L1898.2 1263.3 L1907.2 1263.8 L1916.2 1264.3 L1925.3 1264.7 L1934.3 1265.2 L1943.3 1265.6 L1952.3 1266.0 L1961.3 1266.5 L1970.4 1266.9 L1979.4 1267.3 L1988.4 1267.6 L1997.4 1268.0 L2006.4 1268.4 L2015.5 1268.7 L2024.5 1269.1 L2033.5 1269.4 L2042.5 1269.7 L2051.5 1270.0 L2060.6 1270.2 L2069.6 1270.5 L2078.6 1270.7 L2087.6 1270.9 L2096.7 1271.1 L2105.7 1271.3 L2114.7 1271.5 L2123.7 1271.6 L2132.7 1271.8 L2141.8 1271.9 L2150.8 1272.0 L2159.8 1272.1 L2168.8 1272.1 L2177.8 1272.1 L2186.9 1272.2 L2195.9 1272.1 L2204.9 1272.1 L2213.9 1272.1 L2222.9 1272.0 L2232.0 1271.9 L2241.0 1271.7 L2250.0 1271.6" stroke="#4aa400" stroke-width="6.4" stroke-dasharray="13.5 19"/>
<path d="M400.8 1080.5 L409.8 1083.8 L418.8 1086.9 L427.9 1090.0 L436.9 1092.9 L445.9 1095.6 L454.9 1098.3 L463.9 1100.8 L473.0 1103.2 L482.0 1105.5 L491.0 1107.8 L500.0 1109.9 L509.0 1111.9 L518.1 1113.9 L527.1 1115.8 L536.1 1117.6 L545.1 1119.3 L554.1 1121.0 L563.2 1122.6 L572.2 1124.2 L581.2 1125.7 L590.2 1127.2 L599.3 1128.7 L608.3 1130.1 L617.3 1131.5 L626.3 1132.9 L635.3 1134.3 L644.4 1135.7 L653.4 1137.0 L662.4 1138.3 L671.4 1139.6 L680.4 1140.9 L689.5 1142.1 L698.5 1143.3 L707.5 1144.5 L716.5 1145.7 L725.5 1146.8 L734.6 1147.9 L743.6 1149.0 L752.6 1150.0 L761.6 1151.0 L770.6 1151.9 L779.7 1152.8 L788.7 1153.6 L797.7 1154.5 L806.7 1155.3 L815.7 1156.1 L824.8 1157.0 L833.8 1158.0 L842.8 1159.0 L851.8 1160.1 L860.8 1161.2 L869.9 1162.3 L878.9 1163.4 L887.9 1164.6 L896.9 1165.8 L905.9 1167.0 L915.0 1168.2 L924.0 1169.4 L933.0 1170.6 L942.0 1171.7 L951.0 1172.7 L960.1 1173.6 L969.1 1174.4 L978.1 1175.1 L987.1 1175.7 L996.2 1176.1 L1005.2 1176.5 L1014.2 1176.7 L1023.2 1177.0 L1032.2 1177.3 L1041.3 1177.5 L1050.3 1177.9 L1059.3 1178.2 L1068.3 1178.6 L1077.3 1179.0 L1086.4 1179.5 L1095.4 1180.0 L1104.4 1180.5 L1113.4 1181.1 L1122.4 1181.7 L1131.5 1182.3 L1140.5 1183.0 L1149.5 1183.8 L1158.5 1184.6 L1167.5 1185.4 L1176.6 1186.3 L1185.6 1187.2 L1194.6 1188.1 L1203.6 1189.1 L1212.6 1190.1 L1221.7 1191.1 L1230.7 1192.1 L1239.7 1193.1 L1248.7 1194.1 L1257.7 1195.0 L1266.8 1196.0 L1275.8 1196.9 L1284.8 1197.8 L1293.8 1198.7 L1302.8 1199.5 L1311.9 1200.3 L1320.9 1201.2 L1329.9 1201.9 L1338.9 1202.7 L1348.0 1203.5 L1357.0 1204.2 L1366.0 1205.0 L1375.0 1205.7 L1384.0 1206.4 L1393.1 1207.1 L1402.1 1207.8 L1411.1 1208.5 L1420.1 1209.2 L1429.1 1209.9 L1438.2 1210.5 L1447.2 1211.2 L1456.2 1211.8 L1465.2 1212.5 L1474.2 1213.1 L1483.3 1213.8 L1492.3 1214.4 L1501.3 1215.0 L1510.3 1215.7 L1519.3 1216.3 L1528.4 1216.9 L1537.4 1217.5 L1546.4 1218.1 L1555.4 1218.7 L1564.4 1219.3 L1573.5 1219.9 L1582.5 1220.5 L1591.5 1221.1 L1600.5 1221.6 L1609.5 1222.2 L1618.6 1222.8 L1627.6 1223.3 L1636.6 1223.9 L1645.6 1224.4 L1654.6 1225.0 L1663.7 1225.5 L1672.7 1226.0 L1681.7 1226.6 L1690.7 1227.1 L1699.8 1227.6 L1708.8 1228.1 L1717.8 1228.6 L1726.8 1229.1 L1735.8 1229.6 L1744.9 1230.1 L1753.9 1230.6 L1762.9 1231.1 L1771.9 1231.5 L1780.9 1232.0 L1790.0 1232.5 L1799.0 1232.9 L1808.0 1233.4 L1817.0 1233.8 L1826.0 1234.3 L1835.1 1234.7 L1844.1 1235.2 L1853.1 1235.6 L1862.1 1236.0 L1871.1 1236.4 L1880.2 1236.9 L1889.2 1237.3 L1898.2 1237.7 L1907.2 1238.1 L1916.2 1238.5 L1925.3 1238.9 L1934.3 1239.3 L1943.3 1239.6 L1952.3 1240.0 L1961.3 1240.4 L1970.4 1240.8 L1979.4 1241.1 L1988.4 1241.5 L1997.4 1241.8 L2006.4 1242.2 L2015.5 1242.5 L2024.5 1242.9 L2033.5 1243.2 L2042.5 1243.5 L2051.5 1243.8 L2060.6 1244.2 L2069.6 1244.5 L2078.6 1244.8 L2087.6 1245.1 L2096.7 1245.4 L2105.7 1245.7 L2114.7 1246.0 L2123.7 1246.3 L2132.7 1246.6 L2141.8 1246.8 L2150.8 1247.1 L2159.8 1247.4 L2168.8 1247.6 L2177.8 1247.9 L2186.9 1248.1 L2195.9 1248.4 L2204.9 1248.6 L2213.9 1248.9 L2222.9 1249.1 L2232.0 1249.4 L2241.0 1249.6 L2250.0 1249.8" stroke="#ffa800" stroke-width="6.4" stroke-dasharray="12 30"/>
<path d="M401.3 962.4 L410.3 964.0 L419.3 965.5 L428.4 966.9 L437.4 968.2 L446.4 969.5 L455.4 970.7 L464.4 971.9 L473.4 973.0 L482.5 974.0 L491.5 974.9 L500.5 975.9 L509.5 976.7 L518.5 977.5 L527.6 978.3 L536.6 979.0 L545.6 979.7 L554.6 980.3 L563.6 980.9 L572.6 981.5 L581.7 982.0 L590.7 982.6 L599.7 983.0 L608.7 983.5 L617.7 983.9 L626.8 984.3 L635.8 984.7 L644.8 985.1 L653.8 985.5 L662.8 985.8 L671.8 986.2 L680.9 986.5 L689.9 986.9 L698.9 987.2 L707.9 987.6 L716.9 987.9 L725.9 988.3 L735.0 988.6 L744.0 989.0 L753.0 989.4 L762.0 989.8 L771.0 990.2 L780.1 990.6 L789.1 991.0 L798.1 991.5 L807.1 991.9 L816.1 992.4 L825.1 992.9 L834.2 993.4 L843.2 993.9 L852.2 994.4 L861.2 994.9 L870.2 995.5 L879.3 996.1 L888.3 996.7 L897.3 997.3 L906.3 997.9 L915.3 998.6 L924.3 999.3 L933.4 1000.0 L942.4 1000.7 L951.4 1001.5 L960.4 1002.2 L969.4 1003.0 L978.5 1003.7 L987.5 1004.2 L996.5 1004.5 L1005.5 1004.7 L1014.5 1004.6 L1023.5 1004.4 L1032.6 1004.1 L1041.6 1003.8 L1050.6 1003.6 L1059.6 1003.4 L1068.6 1003.3 L1077.7 1003.3 L1086.7 1003.3 L1095.7 1003.4 L1104.7 1003.5 L1113.7 1003.6 L1122.7 1003.8 L1131.8 1004.0 L1140.8 1004.2 L1149.8 1004.4 L1158.8 1004.5 L1167.8 1004.7 L1176.9 1004.8 L1185.9 1004.9 L1194.9 1005.1 L1203.9 1005.2 L1212.9 1005.3 L1221.9 1005.3 L1231.0 1005.4 L1240.0 1005.5 L1249.0 1005.5 L1258.0 1005.6 L1267.0 1005.6 L1276.1 1005.7 L1285.1 1005.7 L1294.1 1005.8 L1303.1 1005.8 L1312.1 1005.9 L1321.1 1005.9 L1330.2 1006.0 L1339.2 1006.1 L1348.2 1006.1 L1357.2 1006.2 L1366.2 1006.3 L1375.2 1006.4 L1384.3 1006.5 L1393.3 1006.6 L1402.3 1006.7 L1411.3 1006.8 L1420.3 1007.0 L1429.4 1007.1 L1438.4 1007.3 L1447.4 1007.4 L1456.4 1007.6 L1465.4 1007.7 L1474.4 1007.9 L1483.5 1008.0 L1492.5 1008.2 L1501.5 1008.3 L1510.5 1008.4 L1519.5 1008.6 L1528.6 1008.7 L1537.6 1008.8 L1546.6 1008.9 L1555.6 1008.9 L1564.6 1009.0 L1573.6 1009.1 L1582.7 1009.1 L1591.7 1009.2 L1600.7 1009.2 L1609.7 1009.3 L1618.7 1009.3 L1627.8 1009.3 L1636.8 1009.3 L1645.8 1009.3 L1654.8 1009.3 L1663.8 1009.3 L1672.8 1009.3 L1681.9 1009.3 L1690.9 1009.2 L1699.9 1009.2 L1708.9 1009.2 L1717.9 1009.1 L1727.0 1009.1 L1736.0 1009.0 L1745.0 1009.0 L1754.0 1008.9 L1763.0 1008.9 L1772.0 1008.8 L1781.1 1008.8 L1790.1 1008.7 L1799.1 1008.6 L1808.1 1008.6 L1817.1 1008.5 L1826.2 1008.4 L1835.2 1008.4 L1844.2 1008.3 L1853.2 1008.2 L1862.2 1008.2 L1871.2 1008.1 L1880.3 1008.1 L1889.3 1008.0 L1898.3 1007.9 L1907.3 1007.9 L1916.3 1007.8 L1925.4 1007.8 L1934.4 1007.7 L1943.4 1007.7 L1952.4 1007.7 L1961.4 1007.6 L1970.4 1007.6 L1979.5 1007.6 L1988.5 1007.5 L1997.5 1007.5 L2006.5 1007.5 L2015.5 1007.5 L2024.5 1007.5 L2033.6 1007.5 L2042.6 1007.5 L2051.6 1007.6 L2060.6 1007.6 L2069.6 1007.6 L2078.7 1007.7 L2087.7 1007.7 L2096.7 1007.8 L2105.7 1007.9 L2114.7 1007.9 L2123.7 1008.0 L2132.8 1008.1 L2141.8 1008.2 L2150.8 1008.4 L2159.8 1008.5 L2168.8 1008.6 L2177.9 1008.8 L2186.9 1009.0 L2195.9 1009.2 L2204.9 1009.3 L2213.9 1009.5 L2222.9 1009.8 L2232.0 1010.0 L2241.0 1010.2 L2250.0 1010.5" stroke="#00006c" stroke-width="6" stroke-dasharray="11.5 10.2"/>
</g>
<path d="M400.8 1118.6 L402.9 1121.9 L405.0 1125.1 L407.1 1128.3 L409.2 1131.5 L411.3 1134.6 L413.4 1137.7 L415.5 1140.7 L417.6 1143.6 L419.7 1146.5 L421.9 1149.4 L424.1 1152.1 L426.4 1154.8 L428.7 1157.4 L431.0 1160.0 L433.5 1162.5 L436.0 1164.8 L438.6 1167.2 L441.2 1169.4 L444.0 1171.5 L446.8 1173.6 L449.8 1175.5 L452.8 1177.4 L456.0 1179.2 L459.3 1180.9 L462.8 1182.4 L466.3 1183.9 L470.0 1185.3 L473.9 1186.5 L477.9 1187.6 L482.0 1188.7 L486.1 1189.6 L490.4 1190.4 L494.7 1191.0 L499.0 1191.6 L503.4 1192.0 L507.7 1192.2 L512.1 1192.4 L516.4 1192.4 L520.7 1192.3 L524.9 1192.0 L529.0 1191.6 L533.0 1191.1 L536.9 1190.3 L540.7 1189.5 L544.4 1188.5 L547.9 1187.4 L551.4 1186.1 L554.7 1184.7 L557.9 1183.2 L561.1 1181.6 L564.1 1179.8 L567.0 1177.9 L569.9 1176.0 L572.6 1173.9 L575.3 1171.7 L577.9 1169.4 L580.4 1167.0 L582.9 1164.5 L585.2 1162.0 L587.5 1159.3 L589.8 1156.6 L591.9 1153.8 L594.1 1151.0 L596.1 1148.0 L598.1 1145.0 L600.1 1142.0 L602.0 1138.9 L603.9 1135.7 L605.7 1132.5 L607.5 1129.2 L609.2 1125.9 L611.0 1122.6 L612.7 1119.3 L614.4 1115.9 L616.0 1112.5 L617.7 1109.0 L619.3 1105.6 L620.9 1102.1 L622.5 1098.7 L624.1 1095.2 L625.7 1091.7 L627.3 1088.3 L628.9 1084.8 L630.6 1081.4 L632.2 1077.9 L633.8 1074.5 L635.4 1071.0 L637.1 1067.6 L638.7 1064.2 L640.3 1060.8 L642.0 1057.4 L643.6 1054.0 L645.3 1050.6 L646.9 1047.2 L648.6 1043.8 L650.2 1040.4 L651.9 1037.0 L653.6 1033.6 L655.2 1030.2 L656.9 1026.9 L658.6 1023.5 L660.2 1020.1 L661.9 1016.8 L663.6 1013.4 L665.3 1010.1 L666.9 1006.7 L668.6 1003.4 L670.3 1000.0 L672.0 996.7 L673.7 993.4 L675.3 990.0 L677.0 986.7 L678.7 983.4 L680.4 980.0 L682.1 976.7 L683.8 973.4 L685.5 970.1 L687.2 966.7 L688.9 963.4 L690.6 960.1 L692.3 956.8 L693.9 953.5 L695.6 950.2 L697.3 946.9 L699.0 943.5 L700.7 940.2 L702.4 936.9 L704.1 933.6 L705.8 930.3 L707.5 927.0 L709.2 923.7 L710.9 920.4 L712.6 917.1 L714.2 913.7 L715.9 910.4 L717.6 907.1 L719.3 903.8 L721.0 900.5 L722.7 897.2 L724.3 893.9 L726.0 890.5 L727.7 887.2 L729.4 883.9 L731.0 880.6 L732.7 877.3 L734.4 873.9 L736.0 870.6 L737.7 867.3 L739.4 863.9 L741.0 860.6 L742.7 857.3 L744.3 853.9 L746.0 850.6 L747.6 847.2 L749.3 843.9 L750.9 840.5 L752.5 837.2 L754.2 833.8 L755.8 830.5 L757.4 827.1 L759.0 823.7 L760.7 820.3 L762.3 817.0 L763.9 813.6 L765.5 810.2 L767.1 806.8 L768.7 803.4 L770.3 800.0 L771.9 796.6 L773.5 793.2 L775.0 789.8 L776.6 786.4 L778.2 782.9 L779.7 779.5 L781.3 776.1 L782.9 772.6 L784.4 769.2 L786.0 765.7 L787.5 762.3 L789.0 758.8 L790.6 755.4 L792.1 751.9 L793.6 748.4 L795.2 744.9 L796.7 741.5 L798.2 738.0 L799.7 734.5 L801.2 731.0 L802.7 727.5 L804.2 724.0 L805.7 720.5 L807.2 717.0 L808.7 713.5 L810.2 710.0 L811.7 706.5 L813.2 703.0 L814.7 699.4 L816.1 695.9 L817.6 692.4 L819.1 688.8 L820.6 685.3 L822.0 681.8 L823.5 678.2 L824.9 674.7 L826.4 671.1 L827.8 667.6 L829.3 664.0 L830.7 660.5 L832.2 656.9 L833.6 653.3 L835.1 649.8 L836.5 646.2 L837.9 642.6 L839.4 639.0 L840.8 635.5 L842.2 631.9 L843.7 628.3 L845.1 624.7 L846.5 621.1 L847.9 617.6 L849.3 614.0 L850.7 610.4 L852.2 606.8 L853.6 603.2 L855.0 599.6 L856.4 596.0 L857.8 592.4 L859.2 588.8 L860.6 585.2 L862.0 581.5 L863.4 577.9 L864.8 574.3 L866.2 570.7 L867.6 567.1 L869.0 563.5 L870.4 559.9 L871.7 556.2 L873.1 552.6 L874.5 549.0 L875.9 545.4 L877.3 541.7 L878.7 538.1 L880.1 534.5 L881.4 530.9 L882.8 527.2 L884.2 523.6 L885.6 520.0 L887.0 516.3 L888.3 512.7 L889.7 509.1 L891.1 505.4 L892.5 501.8 L893.8 498.2 L895.2 494.5 L896.6 490.9 L898.0 487.3 L899.3 483.6 L900.7 480.0 L902.1 476.3 L903.4 472.7 L904.8 469.1 L906.2 465.4 L907.6 461.8 L908.9 458.1 L910.3 454.5 L911.7 450.9 L913.0 447.2 L914.4 443.6 L915.8 440.0 L917.2 436.3 L918.5 432.7 L919.9 429.0 L921.3 425.4 L922.6 421.8 L924.0 418.1 L925.4 414.5 L926.8 410.9 L928.1 407.2 L929.5 403.6 L930.9 400.0 L932.3 396.3 L933.7 392.7 L935.0 389.1 L936.4 385.5 L937.8 381.8 L939.2 378.2 L940.6 374.6 L941.9 371.0 L943.3 367.3 L944.7 363.7 L946.1 360.1 L947.5 356.5 L948.9 352.9 L950.3 349.2 L951.7 345.6 L953.1 342.0 L954.5 338.4 L955.9 334.8 L957.3 331.2 L958.7 327.6 L960.1 324.0 L961.5 320.4 L962.9 316.8 L964.3 313.2 L965.7 309.6 L967.1 306.0 L968.5 302.4 L969.9 298.8 L971.3 295.2 L972.8 291.7 L974.2 288.1 L975.6 284.5 L977.0 280.9 L978.5 277.3 L979.9 273.8 L981.3 270.2 L982.8 266.6 L984.2 263.1 L985.6 259.5 L987.1 256.0 L988.5 252.4 L990.0 248.9 L991.4 245.3 L992.9 241.8 L994.4 238.2 L995.8 234.7 L997.3 231.2 L998.7 227.6 L1000.2 224.1 L1001.7 220.6 L1003.2 217.0 L1004.6 213.5 L1006.1 210.0 L1007.6 206.5 L1009.1 203.0 L1010.6 199.5 L1013.5 196.5 L1021.5 193.0 L1026.8 186.8 L1028.5 184.3 L1030.1 181.7 L1031.7 179.2 L1033.2 176.7 L1034.8 174.2 L1036.3 171.8 L1037.8 169.3 L1039.3 166.9 L1040.8 164.4 L1042.3 162.1 L1043.8 159.7 L1045.4 157.3 L1046.9 155.0 L1048.5 152.7 L1050.2 150.5 L1051.9 148.2 L1053.6 146.0 L1055.4 143.9 L1057.2 141.7 L1059.2 139.6 L1061.2 137.6 L1063.2 135.5 L1065.4 133.6 L1067.7 131.6 L1070.0 129.7 L1072.5 127.9 L1075.0 126.2 L1077.7 124.6 L1080.5 123.2 L1083.3 121.9 L1086.3 120.8 L1089.3 120.0 L1092.5 119.4 L1095.7 119.1 L1099.0 119.0 L1102.3 119.2 L1105.6 119.6 L1108.9 120.2 L1112.0 121.0 L1115.1 121.8 L1118.0 122.8 L1120.8 124.0 L1123.5 125.2 L1126.1 126.6 L1128.6 128.1 L1131.1 129.6 L1133.4 131.3 L1135.7 133.1 L1137.9 134.9 L1140.0 136.8 L1142.1 138.8 L1144.0 140.9 L1146.0 143.0 L1147.9 145.2 L1149.7 147.4 L1151.5 149.6 L1153.3 151.9 L1155.0 154.3 L1156.7 156.6 L1158.3 159.0 L1160.0 161.4 L1161.6 163.8 L1163.1 166.3 L1164.7 168.7 L1166.2 171.2 L1167.7 173.7 L1169.2 176.3 L1170.6 178.8 L1172.0 181.4 L1173.4 184.0 L1174.8 186.6 L1176.2 189.2 L1177.5 191.9 L1178.9 194.5 L1180.2 197.2 L1181.5 199.9 L1182.8 202.6 L1184.0 205.3 L1185.3 208.1 L1186.5 210.8 L1187.8 213.6 L1189.0 216.3 L1190.2 219.1 L1191.4 221.9 L1192.6 224.7 L1193.8 227.5 L1195.0 230.3 L1196.2 233.1 L1197.3 236.0 L1198.5 238.8 L1199.7 241.7 L1200.8 244.5 L1202.0 247.4 L1203.1 250.2 L1204.3 253.1 L1207.0 259.9 L1210.0 267.3 L1213.0 274.8 L1216.0 282.4 L1219.0 290.1 L1222.0 297.8 L1225.0 305.6 L1228.0 313.3 L1231.0 321.1 L1234.0 329.2 L1237.0 337.8 L1240.0 346.4 L1243.0 355.3 L1245.8 363.6 L1247.0 367.4 L1248.3 371.1 L1249.5 374.8 L1250.8 378.6 L1252.1 382.3 L1253.3 386.1 L1254.6 389.8 L1255.8 393.6 L1257.1 397.4 L1258.3 401.1 L1259.5 404.9 L1260.8 408.6 L1262.0 412.4 L1263.3 416.1 L1264.5 419.9 L1265.7 423.7 L1267.0 427.4 L1268.2 431.2 L1269.5 435.0 L1270.7 438.7 L1271.9 442.5 L1273.2 446.3 L1274.4 450.0 L1275.6 453.8 L1276.9 457.6 L1278.1 461.3 L1279.4 465.1 L1280.6 468.8 L1281.8 472.6 L1283.1 476.4 L1284.3 480.1 L1285.6 483.9 L1286.8 487.7 L1288.1 491.4 L1289.3 495.2 L1290.5 498.9 L1291.8 502.7 L1293.0 506.4 L1294.3 510.2 L1295.6 513.9 L1296.8 517.7 L1298.1 521.4 L1299.3 525.2 L1300.6 528.9 L1301.9 532.6 L1303.1 536.4 L1304.4 540.1 L1305.7 543.8 L1307.0 547.5 L1308.2 551.3 L1309.5 555.0 L1310.8 558.7 L1312.1 562.4 L1313.4 566.1 L1314.7 569.8 L1316.0 573.5 L1317.3 577.2 L1318.6 580.9 L1319.9 584.6 L1321.3 588.3 L1322.6 591.9 L1323.9 595.6 L1325.3 599.3 L1326.6 602.9 L1327.9 606.6 L1329.3 610.3 L1330.6 613.9 L1332.0 617.5 L1333.4 621.2 L1334.7 624.8 L1336.1 628.4 L1337.5 632.1 L1338.9 635.7 L1340.3 639.3 L1341.7 642.9 L1343.1 646.5 L1344.5 650.1 L1345.9 653.6 L1347.3 657.2 L1348.8 660.8 L1350.2 664.4 L1351.7 667.9 L1353.1 671.5 L1354.6 675.0 L1356.0 678.5 L1357.5 682.1 L1359.0 685.6 L1360.5 689.1 L1362.0 692.6 L1363.5 696.1 L1365.0 699.6 L1366.5 703.1 L1368.1 706.5 L1369.6 710.0 L1371.2 713.4 L1372.7 716.9 L1374.3 720.3 L1375.9 723.7 L1377.5 727.2 L1379.0 730.6 L1380.6 734.0 L1382.3 737.4 L1383.9 740.7 L1385.5 744.1 L1387.1 747.5 L1388.8 750.8 L1390.5 754.2 L1392.1 757.5 L1393.8 760.8 L1395.5 764.2 L1397.2 767.5 L1398.9 770.8 L1400.6 774.0 L1402.3 777.3 L1404.1 780.6 L1405.8 783.8 L1407.6 787.1 L1409.3 790.3 L1411.1 793.5 L1412.9 796.8 L1414.7 800.0 L1416.5 803.2 L1418.3 806.3 L1420.2 809.5 L1422.0 812.7 L1423.8 815.8 L1425.7 819.0 L1427.6 822.1 L1429.5 825.2 L1431.4 828.3 L1433.3 831.4 L1435.2 834.5 L1437.1 837.6 L1439.0 840.7 L1441.0 843.7 L1443.0 846.7 L1444.9 849.8 L1446.9 852.8 L1448.9 855.8 L1450.9 858.8 L1452.9 861.8 L1455.0 864.7 L1457.0 867.7 L1459.1 870.6 L1461.1 873.6 L1463.2 876.5 L1465.3 879.4 L1467.4 882.3 L1469.5 885.2 L1471.7 888.1 L1473.8 890.9 L1476.0 893.8 L1478.1 896.6 L1480.3 899.4 L1482.5 902.2 L1484.7 905.0 L1486.9 907.8 L1489.2 910.6 L1491.4 913.4 L1493.7 916.1 L1495.9 918.8 L1498.2 921.6 L1500.5 924.3 L1502.8 927.0 L1505.1 929.6 L1507.5 932.3 L1509.8 934.9 L1512.2 937.6 L1514.6 940.2 L1517.0 942.8 L1519.4 945.4 L1521.8 948.0 L1524.2 950.6 L1526.7 953.1 L1529.1 955.7 L1531.6 958.2 L1534.1 960.7 L1536.6 963.2 L1539.1 965.7 L1541.7 968.2 L1544.2 970.6 L1546.8 973.1 L1549.3 975.5 L1551.9 977.9 L1554.5 980.3 L1557.2 982.7 L1559.8 985.0 L1562.4 987.4 L1565.1 989.7 L1567.8 992.0 L1570.5 994.3 L1573.2 996.6 L1575.9 998.9 L1578.7 1001.2 L1581.4 1003.4 L1584.2 1005.6 L1587.0 1007.9 L1589.8 1010.0 L1592.6 1012.2 L1595.5 1014.4 L1598.3 1016.5 L1601.2 1018.7 L1604.1 1020.8 L1607.0 1022.9 L1609.9 1025.0 L1612.8 1027.1 L1615.8 1029.1 L1618.7 1031.1 L1621.7 1033.2 L1624.7 1035.2 L1627.7 1037.2 L1630.8 1039.1 L1633.8 1041.1 L1636.9 1043.0 L1640.0 1044.9 L1643.1 1046.8 L1646.2 1048.7 L1649.3 1050.6 L1652.5 1052.4 L1652.6 1063.6 L1655.7 1065.5 L1658.9 1067.4 L1662.1 1069.2 L1665.3 1071.1 L1668.5 1072.9 L1671.7 1074.7 L1674.9 1076.5 L1678.2 1078.2 L1681.5 1080.0 L1684.8 1081.7 L1688.1 1083.5 L1691.4 1085.2 L1694.7 1086.8 L1698.1 1088.5 L1701.5 1090.2 L1704.9 1091.8 L1708.3 1093.4 L1711.7 1095.0 L1715.1 1096.6 L1718.6 1098.2 L1722.1 1099.8 L1725.5 1101.3 L1729.0 1102.8 L1732.6 1104.3 L1736.1 1105.8 L1739.6 1107.3 L1743.2 1108.8 L1746.8 1110.2 L1750.4 1111.7 L1754.0 1113.1 L1757.6 1114.5 L1761.2 1115.9 L1764.9 1117.3 L1768.6 1118.6 L1772.2 1120.0 L1775.9 1121.3 L1779.6 1122.7 L1783.4 1124.0 L1787.1 1125.3 L1790.8 1126.5 L1794.6 1127.8 L1798.4 1129.0 L1802.2 1130.3 L1806.0 1131.5 L1809.8 1132.7 L1813.6 1133.9 L1817.5 1135.1 L1821.3 1136.3 L1825.2 1137.4 L1829.1 1138.6 L1833.0 1139.7 L1836.9 1140.8 L1840.8 1141.9 L1844.8 1143.0 L1848.7 1144.1 L1852.7 1145.2 L1856.7 1146.2 L1860.7 1147.2 L1864.7 1148.3 L1868.7 1149.3 L1872.7 1150.3 L1876.7 1151.3 L1880.8 1152.3 L1884.8 1153.2 L1888.9 1154.2 L1893.0 1155.1 L1897.1 1156.1 L1901.2 1157.0 L1905.3 1157.9 L1909.5 1158.8 L1913.6 1159.7 L1917.8 1160.6 L1921.9 1161.4 L1926.1 1162.3 L1930.3 1163.1 L1934.5 1164.0 L1938.7 1164.8 L1942.9 1165.6 L1947.1 1166.4 L1951.4 1167.2 L1955.6 1167.9 L1959.9 1168.7 L1964.2 1169.5 L1968.5 1170.2 L1972.7 1171.0 L1977.0 1171.7 L1981.4 1172.4 L1985.7 1173.1 L1990.0 1173.8 L1994.4 1174.5 L1998.7 1175.2 L2003.1 1175.8 L2007.4 1176.5 L2011.8 1177.1 L2016.2 1177.8 L2020.6 1178.4 L2025.0 1179.0 L2029.4 1179.6 L2033.9 1180.2 L2038.3 1180.8 L2042.7 1181.4 L2047.2 1182.0 L2051.7 1182.6 L2056.1 1183.1 L2060.6 1183.7 L2065.1 1184.2 L2069.6 1184.8 L2074.1 1185.3 L2078.6 1185.8 L2083.1 1186.3 L2087.7 1186.8 L2092.2 1187.3 L2096.7 1187.8 L2101.3 1188.3 L2105.8 1188.7 L2110.4 1189.2 L2115.0 1189.7 L2119.6 1190.1 L2124.2 1190.5 L2128.8 1191.0 L2133.4 1191.4 L2138.0 1191.8 L2142.6 1192.2 L2147.2 1192.6 L2151.8 1193.0 L2156.5 1193.4 L2161.1 1193.8 L2165.8 1194.2 L2170.4 1194.6 L2175.1 1194.9 L2179.8 1195.3 L2184.4 1195.7 L2189.1 1196.0 L2193.8 1196.3 L2198.5 1196.7 L2203.2 1197.0 L2207.9 1197.3 L2212.6 1197.6 L2217.3 1198.0 L2222.1 1198.3 L2226.8 1198.6 L2231.5 1198.9 L2236.3 1199.2 L2241.0 1199.4 L2245.7 1199.7 L2250.5 1200.0" stroke="#78007a" stroke-width="5" filter="url(#b13)"/>
</g>
<g filter="url(#b1)">
<rect x="1010" y="1270" width="10" height="10" fill="#666"/>
<rect x="1647.5" y="1271" width="10" height="10" fill="#555"/>
<rect x="399" y="353" width="6" height="9" fill="#888"/>
<rect x="399" y="822" width="6" height="9" fill="#888"/>
<rect x="1013" y="194" width="7" height="6" fill="#1a0a1a"/>
<rect x="917.5" y="958" width="4" height="9" fill="#b09a78" opacity="0.8"/>
<rect x="932" y="972" width="5" height="3" fill="#9a9a9a" opacity="0.7"/>
<rect x="1103" y="978.5" width="8" height="3" fill="#a8b4c0" opacity="0.6"/>
<rect x="934" y="1056" width="10" height="3" fill="#9a9aa4" opacity="0.7"/>
<rect x="912" y="1084.5" width="12" height="4" fill="#6a5a50" opacity="0.8"/>
<rect x="935" y="1087.5" width="12" height="4" fill="#7a7078" opacity="0.8"/>
<rect x="956" y="1087.5" width="6" height="3" fill="#8a7a6a" opacity="0.7"/>
<rect x="901" y="1081.5" width="3" height="3" fill="#b0a090" opacity="0.6"/>
<rect x="700" y="1277" width="6" height="2" fill="#c8c8c8" opacity="0.8"/>
<rect x="1017" y="1277" width="6" height="2" fill="#d0d0d0" opacity="0.6"/>
<rect x="1336" y="1277" width="6" height="2" fill="#c8c8c8" opacity="0.8"/>
<rect x="1968" y="1278" width="7" height="2" fill="#c8c8c8" opacity="0.8"/>
</g>
<g>
<rect x="1610" y="163" width="590" height="308" fill="#dedbdf"/>
<rect x="1611.5" y="164.5" width="587" height="305" fill="none" stroke="#cdc6ce" stroke-width="3" filter="url(#b1)"/>
<g filter="url(#b2)">
<path d="M1618 195.0 H1759" stroke="#fbf8f2" stroke-width="22" fill="none"/>
<path d="M1618 252.0 H1759" stroke="#fbf8f2" stroke-width="22" fill="none"/>
<path d="M1618 308.6 H1759" stroke="#fbf8f2" stroke-width="22" fill="none"/>
<path d="M1618 365.6 H1759" stroke="#fbf8f2" stroke-width="22" fill="none"/>
<path d="M1618 422.0 H1759" stroke="#fbf8f2" stroke-width="22" fill="none"/>
</g>
<g filter="url(#b1)">
<path d="M1620 195.0 H1758" stroke="#6a0a7a" stroke-width="8" fill="none"/>
<path d="M1620 252.0 H1758" stroke="#1c2ea8" stroke-width="8" fill="none" stroke-dasharray="27 9"/>
<path d="M1620 308.6 H1758" stroke="#2f8fe8" stroke-width="8" fill="none" stroke-dasharray="9 9"/>
<path d="M1620 365.6 H1758" stroke="#8aa810" stroke-width="8" fill="none" stroke-dasharray="27 9 9 9"/>
<path d="M1620 422.0 H1758" stroke="#e0b000" stroke-width="8" fill="none" stroke-dasharray="27 9 9 9 9 9"/>
</g>
<g class="leg" filter="url(#bl)">
<text x="1785" y="210.0" textLength="386" lengthAdjust="spacingAndGlyphs">SNP GT WATER</text>
<text x="1785" y="267.0" textLength="292" lengthAdjust="spacingAndGlyphs">SNP GT SGF</text>
<text x="1785" y="323.6" textLength="268" lengthAdjust="spacingAndGlyphs">SNP GT AB</text>
<text x="1785" y="380.6" textLength="266" lengthAdjust="spacingAndGlyphs">SNP GT SIF</text>
<text x="1785" y="437.0" textLength="293" lengthAdjust="spacingAndGlyphs">SNP GT PBS</text>
</g>
</g>
<g>
<defs>
<linearGradient id="gDW" x1="0" y1="0" x2="0" y2="1"><stop offset="0" stop-color="#1e1b1a"/><stop offset="0.5" stop-color="#1a1918"/><stop offset="1" stop-color="#2a2118"/></linearGradient>
<linearGradient id="gSGF" x1="0" y1="0" x2="0" y2="1"><stop offset="0" stop-color="#9a8092"/><stop offset="0.3" stop-color="#a996b0"/><stop offset="0.7" stop-color="#bbb0c8"/><stop offset="0.93" stop-color="#cfc0d4"/><stop offset="1" stop-color="#e6cce0"/></linearGradient>
<linearGradient id="gAB" x1="0" y1="0" x2="0" y2="1"><stop offset="0" stop-color="#5860a6"/><stop offset="0.45" stop-color="#4a62aa"/><stop offset="0.8" stop-color="#5a7cba"/><stop offset="1" stop-color="#86a0cc"/></linearGradient>
<linearGradient id="gSIF" x1="0" y1="0" x2="0" y2="1"><stop offset="0" stop-color="#84601e"/><stop offset="0.25" stop-color="#96783e"/><stop offset="0.6" stop-color="#a8905e"/><stop offset="1" stop-color="#b6a67a"/></linearGradient>
<linearGradient id="gPBS" x1="0" y1="0" x2="0" y2="1"><stop offset="0" stop-color="#a69a9e"/><stop offset="0.35" stop-color="#b0a8b6"/><stop offset="0.7" stop-color="#c0bcd0"/><stop offset="1" stop-color="#d0ccdc"/></linearGradient>
<clipPath id="pc"><rect x="1407" y="584" width="843" height="180"/></clipPath>
</defs>
<rect x="1407" y="584" width="843" height="180" fill="#060606"/>
<g clip-path="url(#pc)">
<rect x="1395" y="720" width="870" height="41" fill="#1a595e" filter="url(#b2)"/>
<rect x="1395" y="722" width="60" height="38" fill="#2a7a86" opacity="0.6" filter="url(#b5)"/>
<g filter="url(#b3)">
<path d="M1414.0 578 L1443.6 747.0 Q1447.0 761 1458.6 761 L1490.4 761 Q1502.0 761 1505.8 747.0 L1539.0 578 Z" fill="url(#gDW)"/>
<path d="M1420 590 L1452 752" stroke="#6c5844" stroke-width="9" opacity="0.75" fill="none"/>
<path d="M1447 600 L1468 750" stroke="#4c4648" stroke-width="7" opacity="0.8" fill="none"/>
<path d="M1532 600 L1508 720" stroke="#2c2a2a" stroke-width="8" opacity="0.8" fill="none"/>
<path d="M1486 722 L1494 756" stroke="#6a4a1c" stroke-width="12" opacity="0.7" fill="none"/>
<path d="M1500 748 L1512 754" stroke="#c8b078" stroke-width="5" opacity="0.8" fill="none"/>
<rect x="1410" y="588" width="9" height="22" fill="#a86420" opacity="0.8"/>
<path d="M1562.0 578 L1588.8 747.0 Q1592.0 761 1603.6 761 L1635.4 761 Q1647.0 761 1651.5 747.0 L1694.0 578 Z" fill="url(#gSGF)"/>
<path d="M1565.0 578 L1591.8 747.0 M1691.0 578 L1648.5 747.0" fill="none" stroke="#d2c6d8" stroke-width="5" opacity="0.9"/>
<rect x="1562" y="584" width="132" height="8" fill="#8c6c86" opacity="0.8"/>
<path d="M1749.0 578 L1776.7 747.0 Q1780.0 761 1791.6 761 L1830.4 761 Q1842.0 761 1845.7 747.0 L1878.0 578 Z" fill="url(#gAB)"/>
<path d="M1752.0 578 L1779.7 747.0 M1875.0 578 L1842.7 747.0" fill="none" stroke="#c4c6de" stroke-width="7" opacity="0.9"/>
<path d="M1772 598 H1850 M1790 608 H1862" stroke="#9aa4d4" stroke-width="4" opacity="0.7" fill="none"/>
<path d="M1846 628 l18 6 M1852 600 l16 4" stroke="#e4e0dc" stroke-width="5" opacity="0.8" fill="none"/>
<path d="M1931.0 578 L1957.8 747.0 Q1961.0 761 1972.6 761 L2001.4 761 Q2013.0 761 2017.4 747.0 L2058.0 578 Z" fill="url(#gSIF)"/>
<path d="M1934.0 578 L1960.8 747.0 M2055.0 578 L2014.4 747.0" fill="none" stroke="#b89a5c" stroke-width="5" opacity="0.7"/>
<path d="M2010 640 L1996 750" stroke="#c0b08c" stroke-width="6" opacity="0.6" fill="none"/>
<path d="M1990 622 h24 M1980 650 h18" stroke="#80642c" stroke-width="7" opacity="0.5" fill="none"/>
<path d="M2102.0 578 L2152.8 747.0 Q2158.0 761 2169.6 761 L2196.4 761 Q2208.0 761 2211.1 747.0 L2237.0 578 Z" fill="url(#gPBS)"/>
<path d="M2105.0 578 L2155.8 747.0 M2234.0 578 L2208.1 747.0" fill="none" stroke="#ccc4d0" stroke-width="5" opacity="0.8"/>
<path d="M2200 620 L2188 750" stroke="#d0ccE4" stroke-width="12" opacity="0.6" fill="none"/>
</g>
<rect x="1395" y="759.5" width="870" height="5" fill="#050505" filter="url(#b05)"/>
<rect x="1406" y="584" width="3" height="180" fill="#8a8a8a" opacity="0.7"/>
</g>
<rect x="1408" y="581.5" width="842" height="2.5" fill="#b4b4b4" opacity="0.85"/>
<rect x="2247" y="538" width="3" height="46" fill="#cccccc"/>
<g class="tube" filter="url(#bt)">
<text x="1407" y="573" textLength="130" lengthAdjust="spacingAndGlyphs">DW</text>
<text x="1572" y="573" textLength="133" lengthAdjust="spacingAndGlyphs">SGF</text>
<text x="1759" y="573" textLength="100" lengthAdjust="spacingAndGlyphs">AB</text>
<text x="1950" y="573" textLength="105" lengthAdjust="spacingAndGlyphs">SIF</text>
<text x="2110" y="573" textLength="134" lengthAdjust="spacingAndGlyphs">PBS</text>
</g>
</g>
<text class="cap" x="1080.5" y="1696" text-anchor="middle">(<tspan font-weight="bold">b</tspan>)</text>
</svg>
</body></html>
